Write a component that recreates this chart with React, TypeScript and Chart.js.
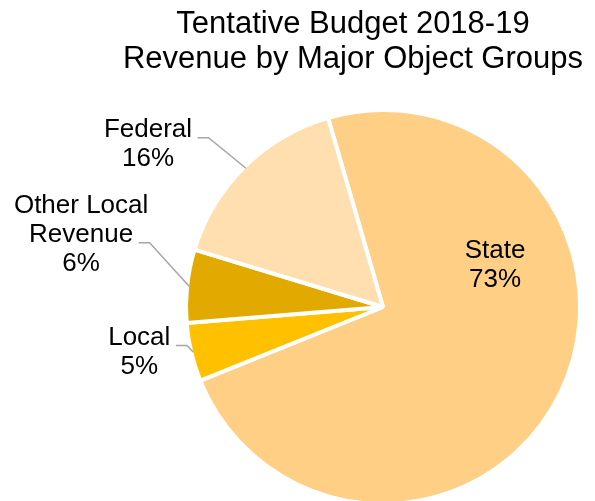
import React, { useEffect, useRef } from "react";
import { Chart, registerables } from "chart.js";

Chart.register(...registerables);

const titleLines = ["Tentative Budget 2018-19", "Revenue by Major Object Groups"];
const categories = ["State", "Local", "Other Local Revenue", "Federal"];
const labelLines = [["State"], ["Local"], ["Other Local", "Revenue"], ["Federal"]];
const values = [73.4, 4.8, 6.0, 15.8];
const colors = ["#FFCF85", "#FFC000", "#E2AA00", "#FFDFB0"];

// label placement style (offsets in px)
const LABEL_STYLE = [
  { inside: true, dx: 112, dy: -49, lead: 0 },
  { inside: false, dx: -54, dy: -7, lead: 0 },
  { inside: false, dx: -108, dy: -73, lead: 1 },
  { inside: false, dx: -98, dy: -31, lead: 0 },
];
const FONT = '26px "Liberation Sans", Arial, sans-serif';
const TITLE_FONT = '31px "Liberation Sans", Arial, sans-serif';
const LINE_H = 29;
const BORDER = 4;

const labelPlugin = {
  id: "customLabels",
  afterDraw(chart: any) {
    const ctx = chart.ctx;
    const meta = chart.getDatasetMeta(0);
    const data = chart.data.datasets[0].data as number[];
    const total = data.reduce((a, b) => a + b, 0);
    ctx.save();
    // title
    ctx.fillStyle = "#000";
    ctx.font = TITLE_FONT;
    ctx.textAlign = "center";
    ctx.textBaseline = "alphabetic";
    ctx.fillText(titleLines[0], 353, 33);
    ctx.fillText(titleLines[1], 353, 68);

    ctx.font = FONT;
    meta.data.forEach((arc: any, i: number) => {
      const p = arc.getProps(["startAngle", "endAngle", "x", "y", "outerRadius"], true);
      const mid = (p.startAngle + p.endAngle) / 2;
      const r = p.outerRadius - BORDER / 2;
      const ax = p.x + Math.cos(mid) * r;
      const ay = p.y + Math.sin(mid) * r;
      const st = LABEL_STYLE[i];
      const lines = [...labelLines[i], Math.round((data[i] / total) * 100) + "%"];
      let tx: number, ty: number;
      if (st.inside) {
        tx = p.x + st.dx;
        ty = p.y + st.dy;
      } else {
        tx = ax + st.dx;
        ty = ay + st.dy;
      }
      ctx.fillStyle = "#000";
      ctx.textAlign = "center";
      lines.forEach((ln, k) => ctx.fillText(ln, tx, ty + k * LINE_H));
      if (!st.inside) {
        const w = ctx.measureText(lines[st.lead]).width;
        const sx = tx + w / 2 + 5.5;
        const sy = ty + st.lead * LINE_H + 0.5;
        ctx.strokeStyle = "#A6A6A6";
        ctx.lineWidth = 1.5;
        ctx.beginPath();
        ctx.moveTo(sx, sy);
        ctx.lineTo(sx + 11, sy);
        ctx.lineTo(ax, ay);
        ctx.stroke();
      }
    });
    ctx.restore();
  },
};

export default function App() {
  const ref = useRef<HTMLCanvasElement | null>(null);
  useEffect(() => {
    if (!ref.current) return;
    const chart = new Chart(ref.current, {
      type: "pie",
      data: {
        labels: categories,
        datasets: [
          {
            data: values,
            backgroundColor: colors,
            borderColor: "#FFFFFF",
            borderWidth: BORDER,
          },
        ],
      },
      options: {
        responsive: false,
        animation: false,
        rotation: -16.2,
        radius: 197,
        layout: { padding: { left: 171, top: 113, right: 0, bottom: 0 } },
        plugins: {
          legend: { display: false },
          tooltip: { enabled: false },
          title: { display: false },
        },
      } as any,
      plugins: [labelPlugin],
    });
    return () => chart.destroy();
  }, []);
  return (
    <div style={{ position: "fixed", left: 0, top: 0, width: 595, height: 501, background: "#fff" }}>
      <canvas ref={ref} width={595} height={501} style={{ display: "block" }} />
    </div>
  );
}
